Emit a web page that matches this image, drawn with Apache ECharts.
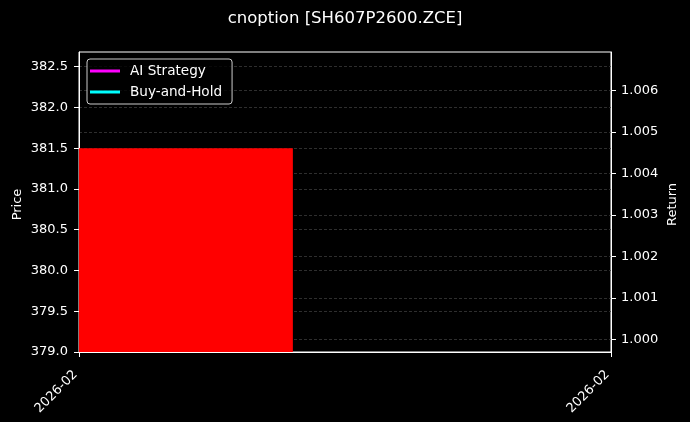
<!DOCTYPE html>
<html>
<head>
<meta charset="utf-8">
<script src="https://cdn.jsdelivr.net/npm/echarts@6/dist/echarts.min.js"></script>
<style>html,body{margin:0;padding:0;background:#000;}#c{width:690px;height:422px;}</style>
</head>
<body>
<div id="c"></div>
<script>
// ---- data ----
var titleText = 'cnoption [SH607P2600.ZCE]';
var xTickValues = [0, 1];
var xTickLabels = ['2026-02', '2026-02'];
// price bar: [xStart, xEnd, low, high]
var priceBars = [[0, 0.402, 379.0, 381.5]];
var priceTicks = [379.0, 379.5, 380.0, 380.5, 381.0, 381.5, 382.0, 382.5];
var returnTicks = [1.000, 1.001, 1.002, 1.003, 1.004, 1.005, 1.006];
var aiStrategy = [[0, 1.0]];
var buyHold = [[0, 1.0]];
var priceRange = [379.0, 382.68];
var returnRange = [0.99969, 1.006935];

var font = 'DejaVu Sans';
var chart = echarts.init(document.getElementById('c'));
var gridLine = { show: true, lineStyle: { color: '#3a3a3a', width: 0.8, type: [3, 2] } };
chart.setOption({
  backgroundColor: '#000',
  animation: false,
  textStyle: { fontFamily: font },
  title: {
    text: titleText, left: 'center', top: 5,
    textStyle: { color: '#fff', fontSize: 16.5, fontWeight: 'normal', fontFamily: font }
  },
  legend: {
    orient: 'vertical', left: 87, top: 59,
    padding: [4, 10, 4, 3], itemGap: 5,
    itemWidth: 30, itemHeight: 3, icon: 'rect',
    backgroundColor: 'rgba(0,0,0,0.8)', borderColor: '#cccccc', borderWidth: 1, borderRadius: 3,
    textStyle: { color: '#fff', fontSize: 13.6, fontFamily: font, lineHeight: 16, padding: [0, 0, 0, 5] },
    data: ['AI Strategy', 'Buy-and-Hold']
  },
  grid: { left: 79, right: 79, top: 52, bottom: 70, show: true, borderColor: '#fff', borderWidth: 1, backgroundColor: 'transparent' },
  xAxis: {
    type: 'value', min: 0, max: 1,
    axisLine: { show: true, lineStyle: { color: '#fff' } },
    axisTick: { show: true, length: 5, lineStyle: { color: '#fff' }, customValues: xTickValues },
    axisLabel: {
      color: '#fff', fontSize: 13, fontFamily: font, rotate: 45, margin: 17, padding: [0, 5, 0, 0],
      customValues: xTickValues,
      formatter: function (v) { return xTickLabels[xTickValues.indexOf(v)]; }
    },
    splitLine: { show: false }
  },
  yAxis: [{
    type: 'value', min: priceRange[0], max: priceRange[1], position: 'left',
    name: 'Price', nameLocation: 'middle', nameGap: 55, nameRotate: 90, nameMoveOverlap: false,
    nameTextStyle: { color: '#fff', fontSize: 13, fontFamily: font, padding: [0, 5, 0, 0] },
    axisLine: { show: true, lineStyle: { color: '#fff' } },
    axisTick: { show: true, length: 5, lineStyle: { color: '#fff' }, customValues: priceTicks },
    axisLabel: { color: '#fff', fontSize: 13, fontFamily: font, margin: 11, customValues: priceTicks,
      formatter: function (v) { return v.toFixed(1); } },
    splitLine: gridLine
  }, {
    type: 'value', min: returnRange[0], max: returnRange[1], position: 'right',
    name: 'Return', nameLocation: 'middle', nameGap: 55, nameRotate: 90, nameMoveOverlap: false,
    nameTextStyle: { color: '#fff', fontSize: 13, fontFamily: font, padding: [0, 5, 0, 0] },
    axisLine: { show: true, lineStyle: { color: '#fff' } },
    axisTick: { show: true, length: 5, lineStyle: { color: '#fff' }, customValues: returnTicks },
    axisLabel: { color: '#fff', fontSize: 13, fontFamily: font, margin: 10, customValues: returnTicks,
      formatter: function (v) { return v.toFixed(3); } },
    splitLine: gridLine
  }],
  series: [{
    type: 'custom', yAxisIndex: 0, clip: true,
    data: priceBars,
    renderItem: function (params, api) {
      var p0 = api.coord([api.value(0), api.value(3)]);
      var p1 = api.coord([api.value(1), api.value(2)]);
      return { type: 'rect', shape: { x: p0[0], y: p0[1], width: p1[0] - p0[0], height: p1[1] - p0[1] },
        style: { fill: '#ff0000' } };
    },
    z: 1
  }, {
    name: 'AI Strategy', type: 'line', yAxisIndex: 1, data: aiStrategy, showSymbol: false,
    itemStyle: { color: '#ff00ff' }, lineStyle: { color: '#ff00ff', width: 2 }
  }, {
    name: 'Buy-and-Hold', type: 'line', yAxisIndex: 1, data: buyHold, showSymbol: false,
    itemStyle: { color: '#00ffff' }, lineStyle: { color: '#00ffff', width: 2 }
  }]
});
</script>
</body>
</html>
